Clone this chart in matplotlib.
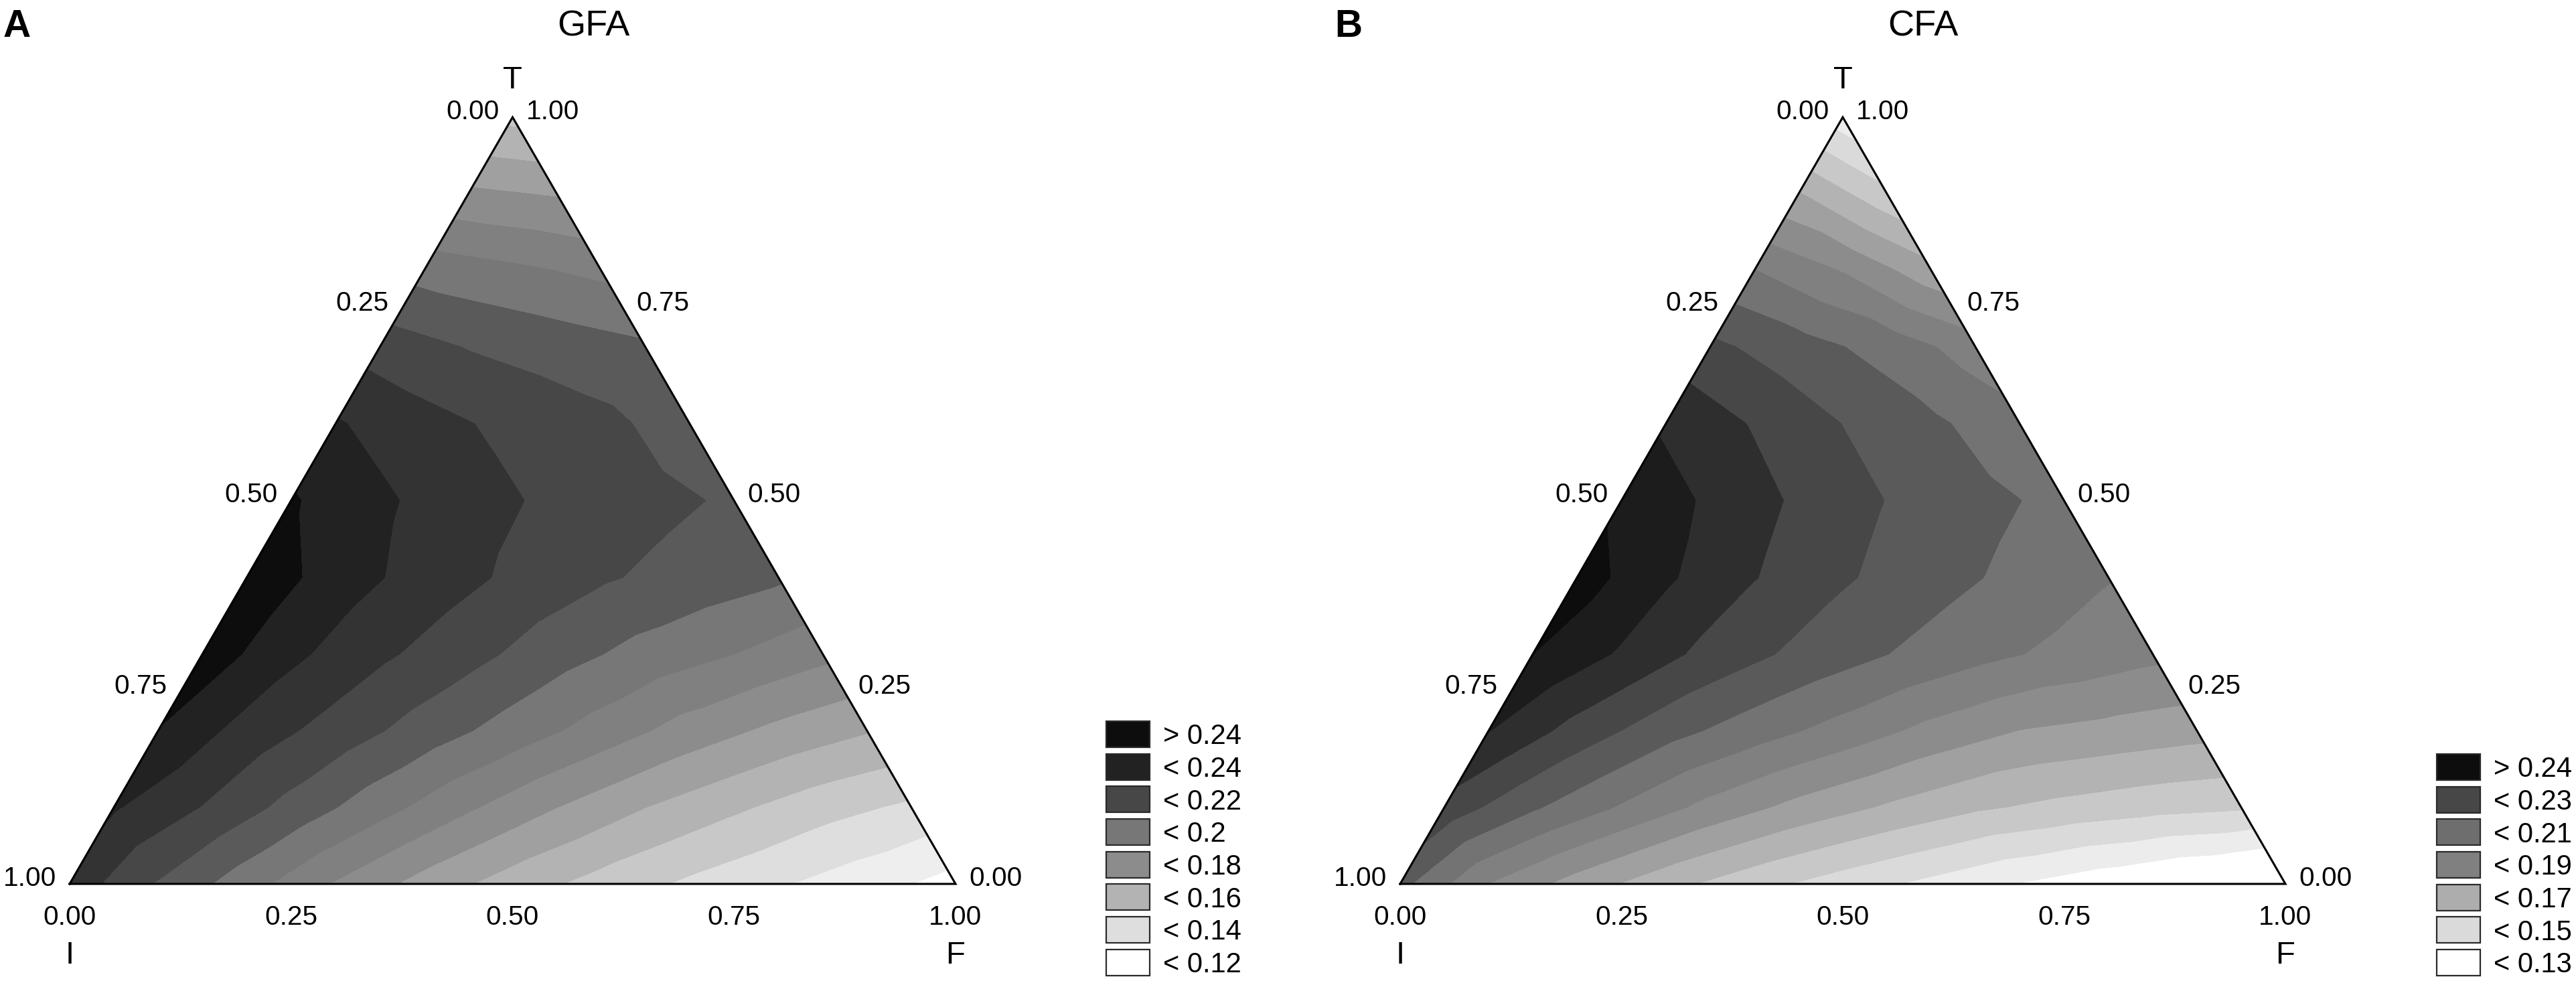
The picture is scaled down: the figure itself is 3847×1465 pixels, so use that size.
import numpy as np
import matplotlib
matplotlib.use("Agg")
import matplotlib.pyplot as plt
import matplotlib.tri as mtri
from matplotlib.patches import Rectangle
from matplotlib.transforms import offset_copy

plt.rcParams['font.family'] = ['Liberation Sans', 'DejaVu Sans']

W, H, DPI = 3848, 1465, 200
SQ = np.sqrt(3) / 2

# ---------------- data ----------------
# simplex lattice: row k has T = t_levels[k], entries for F = f_levels[0..]
t_levels = [0.0, 0.1, 0.2, 0.3, 0.4, 0.5, 0.6, 0.7, 0.8, 0.9, 1.0]
f_levels = [0.0, 0.1, 0.2, 0.3, 0.4, 0.5, 0.6, 0.7, 0.8, 0.9, 1.0]

gfa_values = [
    [0.226, 0.209, 0.194, 0.179, 0.166, 0.155, 0.146, 0.138, 0.131, 0.124, 0.116],
    [0.231, 0.2195, 0.2066, 0.1938, 0.1813, 0.170, 0.160, 0.1517, 0.1438, 0.138],
    [0.2395, 0.2259, 0.2157, 0.2054, 0.1955, 0.1856, 0.1755, 0.1673, 0.1607],
    [0.246, 0.2323, 0.2219, 0.2133, 0.204, 0.1963, 0.190, 0.1827],
    [0.248, 0.2351, 0.2259, 0.2181, 0.2112, 0.2062, 0.2015],
    [0.241, 0.2317, 0.2239, 0.2177, 0.2131, 0.2085],
    [0.231, 0.2234, 0.2174, 0.2127, 0.205],
    [0.2155, 0.2095, 0.2055, 0.2015],
    [0.196, 0.192, 0.1876],
    [0.172, 0.169],
    [0.147],
]

cfa_values = [
    [0.213, 0.1897, 0.1754, 0.1633, 0.1533, 0.1449, 0.1372, 0.1295, 0.123, 0.117, 0.111],
    [0.2262, 0.2113, 0.1988, 0.1867, 0.1767, 0.1686, 0.1614, 0.157, 0.1535, 0.1512],
    [0.2403, 0.2259, 0.2138, 0.2046, 0.196, 0.1869, 0.1797, 0.1767, 0.1736],
    [0.250, 0.2386, 0.2266, 0.2176, 0.2101, 0.2031, 0.1974, 0.1926],
    [0.255, 0.2415, 0.2304, 0.2212, 0.214, 0.2072, 0.2005],
    [0.2475, 0.2385, 0.2282, 0.2197, 0.2132, 0.207],
    [0.2386, 0.2291, 0.2198, 0.212, 0.203],
    [0.2224, 0.2142, 0.2062, 0.195],
    [0.2002, 0.1893, 0.1735],
    [0.1706, 0.1524],
    [0.134],
]

gfa_levels = [0.0, 0.12, 0.13, 0.14, 0.15, 0.16, 0.17, 0.18, 0.19, 0.20, 0.21, 0.22, 0.23, 0.24, 1.0]
gfa_colors = ['#ffffff', '#eeeeee', '#dedede', '#c8c8c8', '#b3b3b3', '#a0a0a0', '#8c8c8c',
              '#808080', '#777777', '#5a5a5a', '#474747', '#333333', '#222222', '#0d0d0d']
cfa_levels = [0.0, 0.13, 0.14, 0.15, 0.16, 0.17, 0.18, 0.19, 0.20, 0.21, 0.22, 0.23, 0.24, 0.25, 1.0]
cfa_colors = ['#ffffff', '#ececec', '#dadada', '#c8c8c8', '#b3b3b3', '#a0a0a0', '#8c8c8c',
              '#808080', '#737373', '#5a5a5a', '#474747', '#2e2e2e', '#1c1c1c', '#0d0d0d']

gfa_legend_labels = ['> 0.24', '< 0.24', '< 0.22', '< 0.2', '< 0.18', '< 0.16', '< 0.14', '< 0.12']
gfa_legend_colors = ['#0d0d0d', '#222222', '#474747', '#777777', '#8c8c8c', '#b3b3b3', '#dedede', '#ffffff']
cfa_legend_labels = ['> 0.24', '< 0.23', '< 0.21', '< 0.19', '< 0.17', '< 0.15', '< 0.13']
cfa_legend_colors = ['#0d0d0d', '#474747', '#6e6e6e', '#808080', '#adadad', '#dadada', '#ffffff']

tick_values = [0.0, 0.25, 0.5, 0.75, 1.0]
tick_labels = ['0.00', '0.25', '0.50', '0.75', '1.00']
vertex_names = ['I', 'F', 'T']
panel_letters = ['A', 'B']
panel_titles = ['GFA', 'CFA']

# ---------------- layout (pixels, y from top) ----------------
panels = [
    dict(I=(104, 1320), F=(1427, 1320), T=(765, 175), letter_x=5, title_x=886,
         leg_x=1652, leg_top=1077),
    dict(I=(2091, 1320), F=(3413, 1320), T=(2752, 175), letter_x=1993, title_x=2872,
         leg_x=3639, leg_top=1126),
]
values_list = [gfa_values, cfa_values]
levels_list = [gfa_levels, cfa_levels]
colors_list = [gfa_colors, cfa_colors]
leg_labels_list = [gfa_legend_labels, cfa_legend_labels]
leg_colors_list = [gfa_legend_colors, cfa_legend_colors]

fig = plt.figure(figsize=(W / DPI, H / DPI), dpi=DPI)
fig.patch.set_facecolor('white')

ov = fig.add_axes([0, 0, 1, 1])
ov.set_xlim(0, W)
ov.set_ylim(H, 0)
ov.axis('off')

def pt2px(pt):
    return pt * DPI / 72.0

TICK_FS = 14.6
NAME_FS = 17
TITLE_FS = 19.5
LETTER_FS = 20.5
LEG_FS = 15
CAP = 0.716

for p, vals, lev, cols, llab, lcol, letter, title in zip(
        panels, values_list, levels_list, colors_list, leg_labels_list, leg_colors_list,
        panel_letters, panel_titles):
    Ix, Iy = p['I']
    Fx, Fy = p['F']
    Tx, Ty = p['T']
    ax = fig.add_axes([Ix / W, (H - Iy) / H, (Fx - Ix) / W, (Iy - Ty) / H])
    ax.set_xlim(0, 1)
    ax.set_ylim(0, SQ)
    ax.axis('off')

    xs, ys, zs, index = [], [], [], {}
    for k, row in enumerate(vals):
        T = t_levels[k]
        for j, v in enumerate(row):
            Fv = f_levels[j]
            index[(k, j)] = len(xs)
            xs.append(Fv + T / 2.0)
            ys.append(T * SQ)
            zs.append(v)
    tris = []
    for k in range(len(vals) - 1):
        n = len(vals[k])
        for j in range(n - 1):
            tris.append([index[(k, j)], index[(k, j + 1)], index[(k + 1, j)]])
            if (k + 1, j + 1) in index:
                tris.append([index[(k, j + 1)], index[(k + 1, j + 1)], index[(k + 1, j)]])
    tri = mtri.Triangulation(xs, ys, tris)
    cs = ax.tricontourf(tri, zs, levels=lev, colors=cols)
    cs.set_edgecolor('face')
    cs.set_linewidth(0.3)

    ax.plot([0, 1, 0.5, 0], [0, 0, SQ, 0], color='black', lw=1.1, clip_on=False,
            solid_joinstyle='miter', zorder=5)

    def txt(x, y, s, dx, dy, fs, **kw):
        tr = offset_copy(ax.transData, fig=fig, x=dx, y=dy, units='dots')
        ax.text(x, y, s, transform=tr, fontsize=fs, clip_on=False, **kw)

    half = pt2px(TICK_FS) * CAP / 2
    for v, lab in zip(tick_values, tick_labels):
        # left edge: I component, I=v
        txt((1 - v) / 2, (1 - v) * SQ, lab, -20, 12 - half, TICK_FS, ha='right', va='baseline')
        # right edge: T component, T=v
        txt(1 - v / 2, v * SQ, lab, 20, 12 - half, TICK_FS, ha='left', va='baseline')
        # bottom edge: F component, F=v
        txt(v, 0, lab, 0, -46 - half, TICK_FS, ha='center', va='baseline')

    nh = pt2px(NAME_FS) * CAP / 2
    txt(0.5, SQ, vertex_names[2], 0, 60 - nh, NAME_FS, ha='center', va='baseline')
    txt(0, 0, vertex_names[0], 0, -102 - nh, NAME_FS, ha='center', va='baseline')
    txt(1, 0, vertex_names[1], 0, -102 - nh, NAME_FS, ha='center', va='baseline')

    ov.text(p['letter_x'], 55, letter, fontsize=LETTER_FS, fontweight='bold', ha='left', va='baseline')
    ov.text(p['title_x'], 54, title, fontsize=TITLE_FS, ha='center', va='baseline')

    bw, bh, step_px = 65, 39, 48.65
    lh = pt2px(LEG_FS) * CAP / 2
    for i, (lab, c) in enumerate(zip(llab, lcol)):
        top = p['leg_top'] + i * step_px
        ov.add_patch(Rectangle((p['leg_x'], top), bw, bh, facecolor=c, edgecolor='#2a2a2a', lw=0.8))
        ov.text(p['leg_x'] + 85, top + bh / 2 + lh, lab, fontsize=LEG_FS, ha='left', va='baseline')

fig.savefig('out.png', dpi=DPI, facecolor='white')
